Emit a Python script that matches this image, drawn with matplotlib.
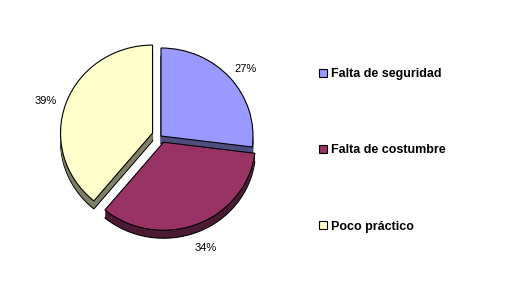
import matplotlib.pyplot as plt

# data
categories = ["Falta de seguridad", "Falta de costumbre", "Poco práctico"]
shares = [27, 34, 39]
colors = ["#9999FF", "#993366", "#FFFFCC"]
side_colors = ["#4D4D80", "#4D1A33", "#808066"]

plt.rcParams["font.family"] = ["Liberation Sans", "DejaVu Sans"]

W, H = 530, 288
squash = 92 / 88          # pie is a little wider than tall
cx, cy = 161, (H - 136) * squash
radius = 92
explode = [0, 7, 9]       # pie() takes these in data units
depth = 8

fig = plt.figure(figsize=(W / 100, H / 100), dpi=100)
ax = fig.add_axes([0, 0, 1, 1])

# fake 3d: stack darker copies underneath
for d in range(depth, 0, -1):
    lw = 0.8 if d == depth else 0
    ax.pie(shares, colors=side_colors, explode=explode, startangle=90,
           counterclock=False, radius=radius, center=(cx, cy - d * squash),
           wedgeprops=dict(edgecolor="black", linewidth=lw))

wedges, _, autotexts = ax.pie(
    shares, colors=colors, explode=explode, startangle=90, counterclock=False,
    radius=radius, center=(cx, cy), autopct="%1.0f%%", pctdistance=1.23,
    wedgeprops=dict(edgecolor="black", linewidth=0.8),
    textprops=dict(fontsize=8, color="black"))

# labels sit a bit lower in the original
for t in autotexts:
    x, y = t.get_position()
    t.set_position((x, y - 5 * squash))

ax.set_aspect("auto")
ax.set_xlim(0, W)
ax.set_ylim(0, H * squash)
ax.axis("off")

fig.legend(wedges, categories, loc="upper left",
           bbox_to_anchor=(319 / W, 1 - 68 / H), frameon=False,
           borderpad=0, borderaxespad=0, handlelength=0.6, handleheight=0.6,
           handletextpad=0.35, labelspacing=5.15,
           prop=dict(size=9, weight="bold"))

fig.savefig("out.png", dpi=100, facecolor="white")
